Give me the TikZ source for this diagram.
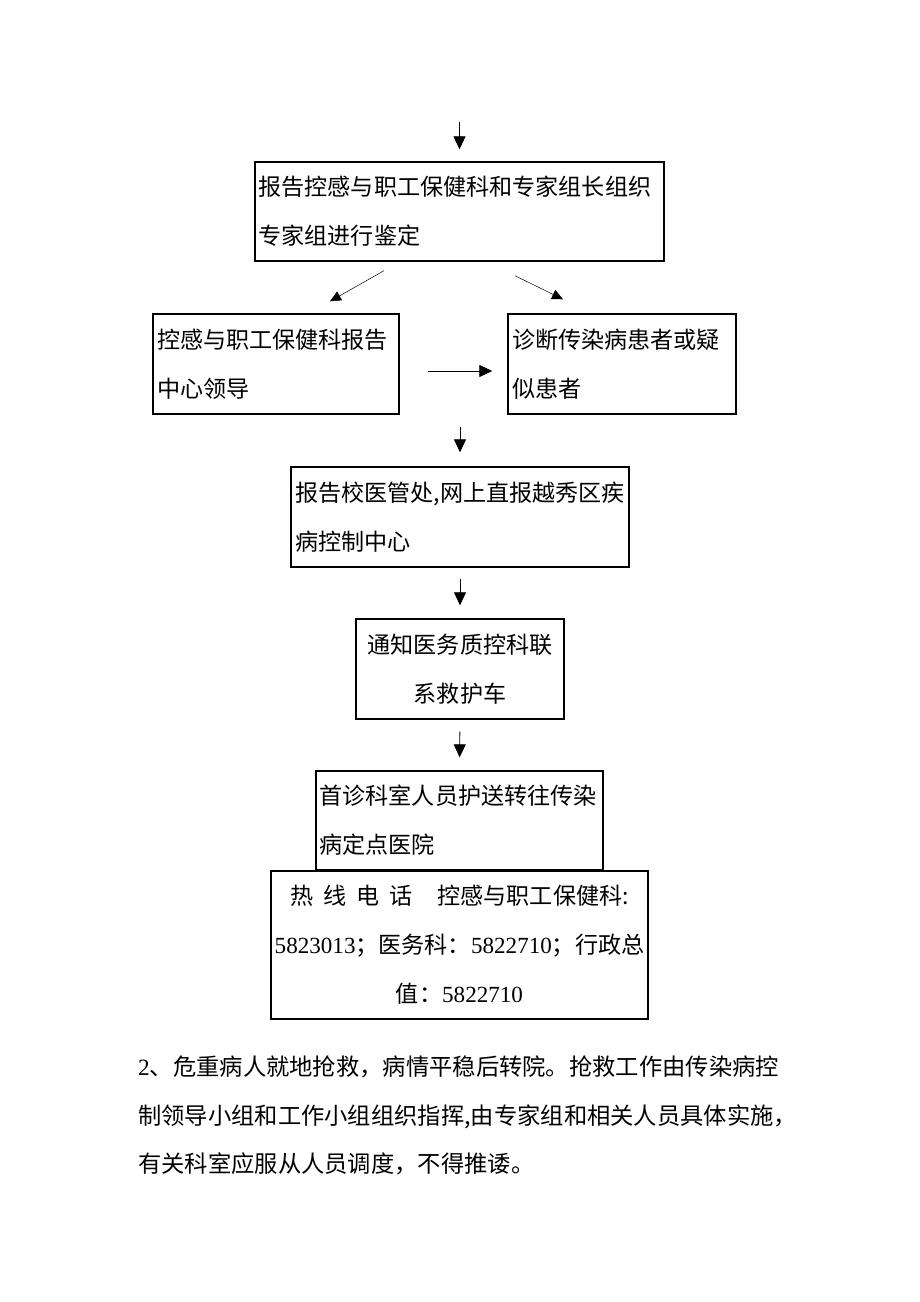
\documentclass[tikz,border=0pt]{standalone}
\usepackage{fontspec}
\newfontfamily\cjk{Noto Sans CJK SC}
\newfontfamily\latin{Liberation Serif}
\usetikzlibrary{arrows.meta}
\tikzset{
	box/.style={draw, line width=1.4pt, inner sep=2pt, align=left, font=\cjk\fontsize{23.1}{49}\selectfont},
	arr/.style={-{Triangle[width=12pt,length=13pt]}, line width=0.8pt},
	thinarr/.style={-{Triangle[width=10pt,length=11pt]}, line width=0.5pt},
}
\begin{document}
\begin{tikzpicture}[x=1pt, y=-1pt]
	\useasboundingbox (0, 0) rectangle (920, 1302);
	% boxes of the flow
	\node[box, minimum width=409, minimum height=99, text width=402] (rep) at (459.5, 211.5) {报告控感与职工保健科和专家组长组织\\专家组进行鉴定};
	\node[box, minimum width=246, minimum height=100, text width=238] (lead) at (276, 364) {控感与职工保健科报告\\中心领导};
	\node[box, minimum width=228, minimum height=100, text width=220] (diag) at (622, 364) {诊断传染病患者或疑\\似患者};
	\node[box, minimum width=338, minimum height=100, text width=330] (rpt) at (460, 517) {报告校医管处,网上直报越秀区疾\\病控制中心};
	\node[box, minimum width=208, minimum height=100, align=center] (ntf) at (460, 669) {通知医务质控科联\\系救护车};
	\node[box, minimum width=287, minimum height=99, text width=280] (esc) at (459.5, 820.5) {首诊科室人员护送转往传染\\病定点医院};
	\node[box, minimum width=377, minimum height=148, text width=370, align=center] (hot) at (459.5, 945) {热\hspace{10pt}线\hspace{10pt}电\hspace{10pt}话\hspace{25pt}控感与职工保健科:\\{\latin 5823013}；医务科：{\latin 5822710}；行政总\\值：{\latin 5822710}};
	% arrows
	\coordinate (top) at (459.5, 122);
	\coordinate (mid) at (460, 427);
	\draw[arr, shorten >=12pt] (top) -- (rep.north);
	\draw[thinarr] ([xshift=-75.5pt, yshift=-9pt]rep.south) -- ([xshift=54pt, yshift=12pt]lead.north);
	\draw[thinarr] ([xshift=55.5pt, yshift=-14pt]rep.south) -- ([xshift=-59pt, yshift=14pt]diag.north);
	\draw[arr] ([xshift=28pt, yshift=-7pt]lead.east) -- ([xshift=-15pt, yshift=-7pt]diag.west);
	\draw[arr, shorten >=14pt] (mid) -- (rpt.north);
	\draw[arr, shorten <=11pt, shorten >=13pt] (rpt.south) -- (ntf.north);
	\draw[arr, shorten <=12pt, shorten >=13pt] (ntf.south) -- (esc.north);
	% text below
	\node[anchor=north west, inner sep=0pt, text width=700, align=left, font=\cjk\fontsize{23.3}{48.5}\selectfont] (para) at (138, 1056) {{\latin 2}、危重病人就地抢救，病情平稳后转院。抢救工作由传染病控\\制领导小组和工作小组组织指挥,由专家组和相关人员具体实施，\\有关科室应服从人员调度，不得推诿。};
\end{tikzpicture}
\end{document}
